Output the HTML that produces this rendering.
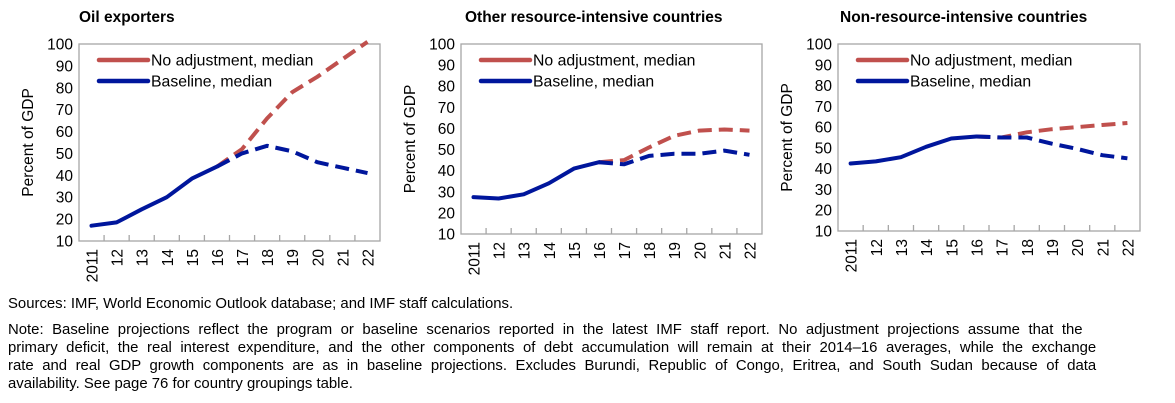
<!DOCTYPE html>
<html><head><meta charset="utf-8"><style>
body{margin:0;background:#fff;width:1175px;height:403px;overflow:hidden;font-family:"Liberation Sans",Arial,sans-serif;}
svg{position:absolute;left:0;top:0}
.note{position:absolute;left:8px;font-size:14.9px;color:#000;line-height:18px;white-space:nowrap}
.jl{display:block;word-spacing:4.4px}
.ll{display:block}
</style></head><body>
<svg id="chart" width="1175" height="290"></svg>
<div class="note" style="top:295px">Sources: IMF, World Economic Outlook database; and IMF staff calculations.</div>
<div class="note" style="top:321px"><span class="jl">Note: Baseline projections reflect the program or baseline scenarios reported in the latest IMF staff report. No adjustment projections assume that the</span><span class="jl">primary deficit, the real interest expenditure, and the other components of debt accumulation will remain at their 2014–16 averages, while the exchange</span><span class="jl">rate and real GDP growth components are as in baseline projections. Excludes Burundi, Republic of Congo, Eritrea, and South Sudan because of data</span><span class="ll">availability. See page 76 for country groupings table.</span></div>
<script>
const categories=["2011","12","13","14","15","16","17","18","19","20","21","22"];
const yTicks=[10,20,30,40,50,60,70,80,90,100];
const titles=["Oil exporters","Other resource-intensive countries","Non-resource-intensive countries"];
const oilBaseline=[17,18.5,24.5,30,38.5,44,50,53.5,51,46,43.5,41];
const oilNoAdj=[17,18.5,24.5,30,38.5,44,52,66,78,85,93,101];
const otherBaseline=[27.5,26.8,28.8,34,41,44,43,47,48,48,49.5,47.5];
const otherNoAdj=[27.5,26.8,28.8,34,41,44,45,51,56.5,59,59.5,59];
const nonBaseline=[42.5,43.5,45.5,50.5,54.5,55.5,55,55,52,49.5,46.5,45];
const nonNoAdj=[42.5,43.5,45.5,50.5,54.5,55.5,55,57.5,59,60,61,62];
const baselines=[oilBaseline,otherBaseline,nonBaseline];
const noAdjs=[oilNoAdj,otherNoAdj,nonNoAdj];
const boxes=[{l:79,r:380,t:44,b:241,title:79},{l:461,r:762,t:44,b:234,title:465},{l:838,r:1140,t:44,b:231,title:840}];
const NS="http://www.w3.org/2000/svg";
const svg=document.getElementById('chart');
function mk(tag,attrs,parent){const e=document.createElementNS(NS,tag);for(const k in attrs)e.setAttribute(k,attrs[k]);(parent||svg).appendChild(e);return e;}
const RED="#c0504d",BLUE="#00169c";
boxes.forEach((B,p)=>{
  const g=mk('g',{});
  
  
  const n=categories.length,bw=(B.r-B.l)/n;
  const x=i=>B.l+bw*(i+0.5);
  const y=v=>B.b-(v-10)/90*(B.b-B.t);
  const t=mk('text',{x:B.title,y:22,'font-size':15.5,'font-weight':'bold'},g);t.textContent=titles[p];
  
  
  const rect=mk('rect',{x:B.l,y:B.t,width:B.r-B.l,height:B.b-B.t,fill:'none',stroke:'#a6a6a6','stroke-width':1.3},g);
  
  
  yTicks.forEach(v=>{const tx=mk('text',{x:B.l-6,y:y(v)+5.5,'font-size':15.5,'text-anchor':'end'},g);tx.textContent=v;
    
    });
  categories.forEach((c,i)=>{
    if(i>0)mk('line',{x1:B.l+bw*i,x2:B.l+bw*i,y1:B.b,y2:B.b-6,stroke:'#a6a6a6','stroke-width':1.3},g);
    const tx=mk('text',{x:0,y:0,'font-size':15.5,'text-anchor':'end',transform:`translate(${x(i)+6},${B.b+8}) rotate(-90)`},g);tx.textContent=c;
    
    
  });
  const yl=mk('text',{x:0,y:0,'font-size':15.5,'text-anchor':'middle',transform:`translate(${B.l-46},${(B.t+B.b)/2}) rotate(-90)`},g);yl.textContent="Percent of GDP";
  
  
  const pts=(arr,a,b)=>arr.slice(a,b+1).map((v,k)=>x(a+k).toFixed(1)+','+y(v).toFixed(1)).join(' ');
  const na=mk('polyline',{points:pts(noAdjs[p],5,11),fill:'none',stroke:RED,'stroke-width':4,'stroke-dasharray':'14,7','stroke-linejoin':'round'},g);
  
  
  const bd=mk('polyline',{points:pts(baselines[p],5,11),fill:'none',stroke:BLUE,'stroke-width':4,'stroke-dasharray':'14,7','stroke-linejoin':'round'},g);
  
  
  const bs=mk('polyline',{points:pts(baselines[p],0,5),fill:'none',stroke:BLUE,'stroke-width':4,'stroke-linejoin':'round','stroke-linecap':'round'},g);
  
  
  const lx=B.l+20;
  [[RED,"No adjustment, median",60],[BLUE,"Baseline, median",81]].forEach(([col,lab,ly])=>{
    const lg=mk('g',{},g);
    
    
    mk('line',{x1:lx,x2:lx+49,y1:ly,y2:ly,stroke:col,'stroke-width':4.5,'stroke-linecap':'round'},lg);
    const tt=mk('text',{x:lx+52,y:ly+5.5,'font-size':15.8},lg);tt.textContent=lab;
  });
});
</script>
</body></html>
